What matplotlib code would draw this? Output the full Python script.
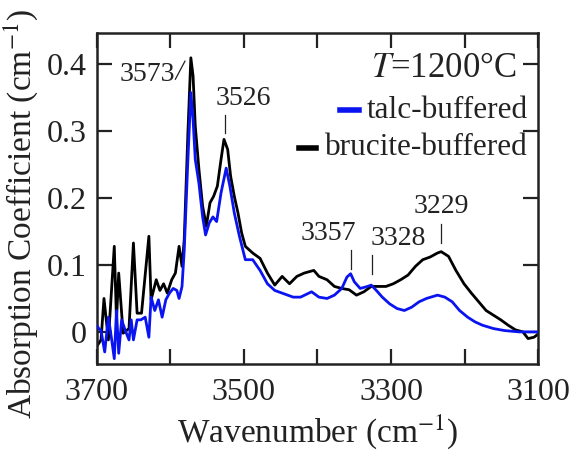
import matplotlib
matplotlib.use("Agg")
import matplotlib.pyplot as plt

plt.rcParams['font.family'] = 'Liberation Serif'
plt.rcParams['mathtext.fontset'] = 'stix'

# brucite-buffered spectrum (wavenumber, absorption coefficient)
brucite_wn = [3700, 3694, 3690, 3684, 3676, 3673, 3670, 3664, 3656, 3650, 3645, 3639,
              3629, 3626, 3619, 3614, 3609, 3604, 3598, 3593, 3588, 3584, 3581, 3576,
              3572, 3569, 3566, 3561, 3556, 3551, 3546, 3541, 3536, 3531, 3527, 3522,
              3518, 3513, 3508, 3503, 3498, 3488, 3478, 3468, 3458, 3448, 3438, 3428,
              3418, 3405, 3398, 3387, 3377, 3367, 3357, 3347, 3337, 3327, 3317, 3307,
              3297, 3287, 3277, 3267, 3257, 3247, 3237, 3232, 3222, 3212, 3201, 3191,
              3181, 3171, 3161, 3151, 3141, 3131, 3121, 3114, 3106, 3100]
brucite_abs = [-0.022, -0.012, 0.050, -0.012, 0.128, 0.018, 0.088, -0.002, 0.005, 0.133, 0.028, 0.028,
               0.143, 0.048, 0.078, 0.062, 0.072, 0.058, 0.078, 0.088, 0.128, 0.098, 0.138, 0.298,
               0.410, 0.383, 0.308, 0.243, 0.188, 0.158, 0.193, 0.203, 0.218, 0.258, 0.288, 0.273,
               0.233, 0.203, 0.178, 0.148, 0.128, 0.118, 0.110, 0.088, 0.070, 0.083, 0.072, 0.083,
               0.088, 0.092, 0.083, 0.078, 0.068, 0.065, 0.063, 0.055, 0.060, 0.068, 0.068, 0.068,
               0.072, 0.078, 0.085, 0.098, 0.108, 0.112, 0.118, 0.120, 0.113, 0.092, 0.072, 0.058,
               0.045, 0.032, 0.025, 0.018, 0.010, 0.003, 0.000, -0.010, -0.008, -0.003]

# talc-buffered spectrum
talc_wn = [3700, 3697, 3694, 3689, 3684, 3680, 3676, 3673, 3670, 3666, 3661, 3656,
           3653, 3650, 3645, 3640, 3634, 3629, 3626, 3621, 3616, 3611, 3606, 3601,
           3596, 3591, 3588, 3584, 3581, 3576, 3572, 3569, 3566, 3561, 3556, 3552,
           3547, 3542, 3537, 3531, 3524, 3519, 3513, 3506, 3498, 3488, 3478, 3468,
           3458, 3448, 3433, 3423, 3408, 3398, 3387, 3377, 3367, 3360, 3355, 3350,
           3342, 3332, 3327, 3320, 3312, 3302, 3292, 3282, 3272, 3262, 3252, 3237,
           3227, 3217, 3207, 3196, 3186, 3176, 3161, 3146, 3126, 3100]
talc_abs = [0.010, 0.005, 0.002, -0.030, 0.022, -0.008, -0.040, 0.032, -0.032, 0.018, 0.002, -0.012,
            0.018, -0.012, 0.018, 0.018, 0.022, -0.008, 0.052, 0.032, 0.048, 0.022, 0.048, 0.058,
            0.065, 0.062, 0.050, 0.068, 0.122, 0.258, 0.358, 0.318, 0.258, 0.222, 0.172, 0.145,
            0.163, 0.172, 0.165, 0.208, 0.245, 0.218, 0.178, 0.143, 0.108, 0.108, 0.092, 0.072,
            0.062, 0.058, 0.052, 0.052, 0.060, 0.052, 0.050, 0.055, 0.065, 0.082, 0.087, 0.075,
            0.065, 0.068, 0.070, 0.062, 0.052, 0.042, 0.035, 0.032, 0.037, 0.045, 0.050, 0.055,
            0.052, 0.045, 0.032, 0.022, 0.015, 0.010, 0.005, 0.002, 0.000, 0.000]

# peak labels: text position and marker line
peak_labels = ['3526', '3357', '3328', '3229']
peak_text_x = [3501, 3385, 3290, 3232]
peak_text_y = [0.340, 0.137, 0.130, 0.178]
peak_mark_x = [3526, 3355, 3326, 3232]
peak_mark_y = [(0.297, 0.325), (0.094, 0.122), (0.087, 0.115), (0.133, 0.162)]

ink = '#222222'
blue = '#0a14f0'
fig = plt.figure(figsize=(5.82, 4.53), dpi=100)
ax = fig.add_axes([0.166, 0.1965, 0.759, 0.7305])

ax.plot(talc_wn, talc_abs, color=blue, lw=2.0, zorder=3)
ax.plot(brucite_wn, brucite_abs, color='black', lw=2.0, zorder=2)

ax.set_xlim(3700, 3100)
ax.set_ylim(-0.048, 0.447)
ax.set_xticks([3700, 3600, 3500, 3400, 3300, 3200, 3100])
ax.set_xticklabels(['3700', '', '3500', '', '3300', '', '3100'])
ax.set_yticks([0, 0.1, 0.2, 0.3, 0.4])
ax.set_yticklabels(['0', '0.1', '0.2', '0.3', '0.4'])
ax.tick_params(direction='in', length=11, width=1.6, top=True, right=True,
               labelsize=23, colors=ink)
ax.tick_params(axis='x', pad=10)
ax.tick_params(axis='y', pad=7)
for s in ax.spines.values():
    s.set_linewidth(1.8)
    s.set_color(ink)

ax.set_xlabel('Wavenumber (cm$^{\\mathrm{-1}}$)', fontsize=24, color=ink, labelpad=4)
ax.set_ylabel('Absorption Coefficient (cm$^{\\mathrm{-1}}$)', fontsize=24, color=ink)
ax.yaxis.set_label_coords(-0.128, 0.453)

# peak annotations
ax.text(3631, 0.375, '3573', fontsize=20, color=ink, ha='center', va='baseline')
ax.plot([3593, 3580], [0.378, 0.405], color=ink, lw=0.9)
for lab, tx, ty, mx, my in zip(peak_labels, peak_text_x, peak_text_y, peak_mark_x, peak_mark_y):
    ax.text(tx, ty, lab, fontsize=20, color=ink, ha='center', va='baseline')
    ax.plot([mx, mx], my, color=ink, lw=0.9)

# temperature and legend
ax.text(0.951, 0.894, '$T$=1200°C', transform=ax.transAxes, fontsize=25,
        color=ink, ha='right', va='center')
ax.text(0.976, 0.767, 'talc-buffered', transform=ax.transAxes, fontsize=22.5,
        color=ink, ha='right', va='center')
ax.plot([0.551, 0.594], [0.767, 0.767], transform=ax.transAxes, color=blue, lw=4)
ax.text(0.976, 0.653, 'brucite-buffered', transform=ax.transAxes, fontsize=22.5,
        color=ink, ha='right', va='center')
ax.plot([0.458, 0.497], [0.653, 0.653], transform=ax.transAxes, color='black', lw=4)

fig.savefig('out.png', dpi=100)
